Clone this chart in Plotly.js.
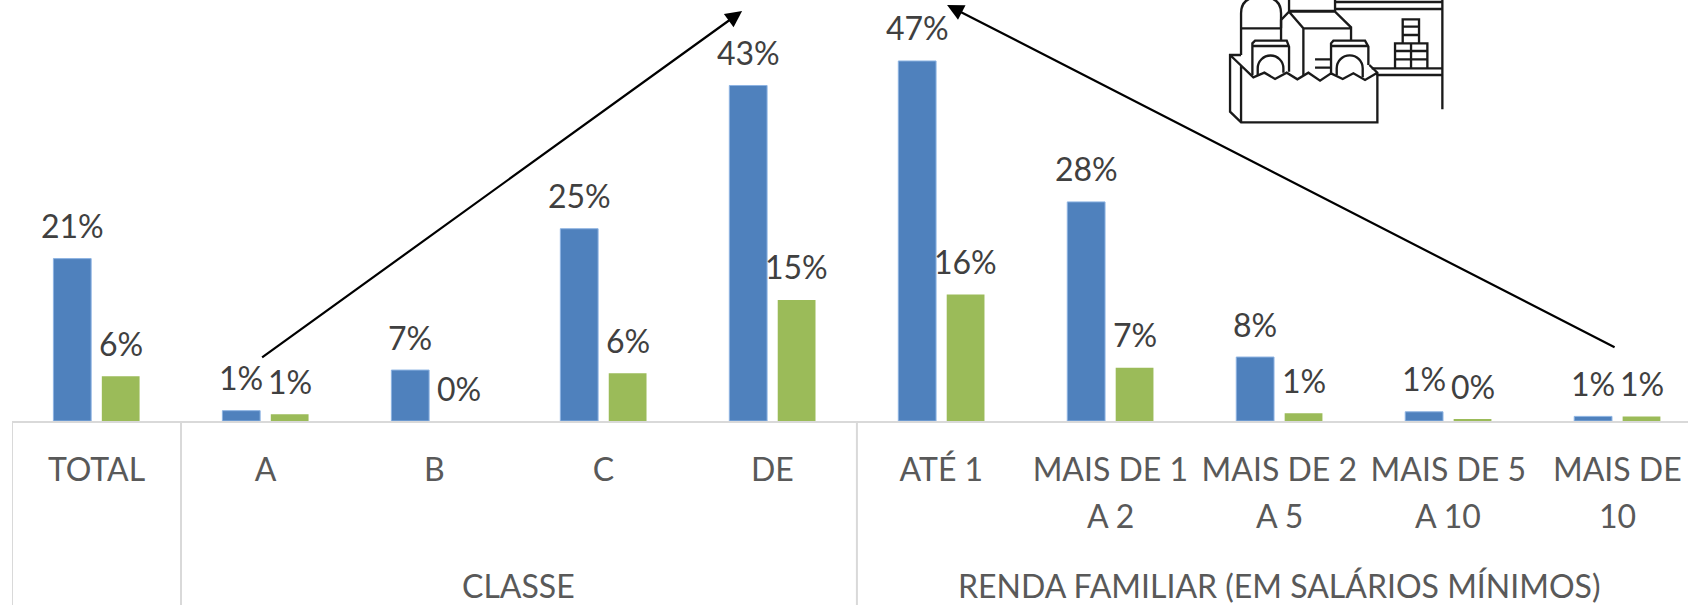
<!DOCTYPE html>
<html>
<head>
<meta charset="utf-8">
<script src="https://cdn.plot.ly/plotly-3.0.1.min.js"></script>
<style>html,body{margin:0;padding:0;background:#fff;overflow:hidden}</style>
</head>
<body>
<div id="chart" style="width:1688px;height:605px"></div>
<script>
var categories = ["TOTAL","A","B","C","DE","ATÉ 1","MAIS DE 1","MAIS DE 2","MAIS DE 5","MAIS DE"];
var categoriesSecondLine = ["","","","","","","A 2","A 5","A 10","10"];
var blueValues = [21.2,1.35,6.65,25.1,43.8,47.0,28.6,8.35,1.2,0.6];
var greenValues = [5.85,0.87,0,6.25,15.8,16.5,6.95,1.0,0.25,0.6];
var blueLabels = ["21%","1%","7%","25%","43%","47%","28%","8%","1%","1%"];
var greenLabels = ["6%","1%","0%","6%","15%","16%","7%","1%","0%","1%"];
var groupLabels = [{text:"CLASSE",at:2.5},{text:"RENDA FAMILIAR (EM SALÁRIOS MÍNIMOS)",at:7}];
var groupDividers = [-0.5,0.5,4.5];

var FONT = "Lato, 'Open Sans', sans-serif";
var W = 1688, H = 605, LEFT = 11.8, BASE = 421, CATW = 169, UNIT = 7.66;
var px = function(x){return (x-LEFT)/(W-LEFT);};
var py = function(y){return 1-y/BASE;};

var icon = "<svg xmlns='http://www.w3.org/2000/svg' viewBox='0 0 900 420' width='900' height='420'>" +
"<g fill='none' stroke='#1a1a1a' stroke-width='7'>" +
"<path d='M183 165V40Q183 -10 243 -10Q303 -10 303 40V85M183 85H303'/>" +
"<path d='M327 0V33H465V0M303 122V60L327 35H465L513 82V122M327 35L370 85H513M370 85V225'/>" +
"<path d='M465 6H787M465 27H787M787 0V328M575 205H787M590 225H787'/>" +
"<path d='M668 130V58H717V130M668 80H717M668 105H717M645 205V130H742V205M693 130V205M645 153H742M645 178H742'/>" +
"<path d='M217 225V130L225 122H320L327 140V215M217 138H327M233 225V205A38 38 0 0 1 310 205V218'/>" +
"<path d='M453 225V130L460 122H555L565 140V195M453 138H565M470 225V205A38 38 0 0 1 548 205V232M405 178H453M405 203H453'/>" +
"<path d='M183 165H150V335L183 367H592V218L568 195M150 165L220 232L253 218L285 237L320 218L352 238L385 218L420 242L453 220L488 237L520 220L555 240L592 218M183 195V367'/>" +
"</g></svg>";

var SLOT = 48.4/CATW;
var annotations = [];
function addLabels(labels, values, side){
  labels.forEach(function(t,i){
    annotations.push({x:i+side*SLOT/2,y:values[i],xref:'x',yref:'y',text:t,showarrow:false,
      yanchor:'middle',xanchor:'center',yshift:33,font:{family:FONT,size:32,color:'#404040'}});
  });
}
addLabels(blueLabels,blueValues,-1);
addLabels(greenLabels,greenValues,1);
categoriesSecondLine.forEach(function(t,i){
  if(!t) return;
  annotations.push({x:i,y:0,xref:'x',yref:'paper',text:t,showarrow:false,yanchor:'middle',xanchor:'center',
    yshift:-(515-BASE),font:{family:FONT,size:32,color:'#595959'}});
});
groupLabels.forEach(function(g){
  annotations.push({x:g.at,y:0,xref:'x',yref:'paper',text:g.text,showarrow:false,yanchor:'middle',xanchor:'center',
    yshift:-(585-BASE),font:{family:FONT,size:32,color:'#595959'}});
});
function arrow(x0,y0,x1,y1){
  annotations.push({x:px(x1),y:py(y1),xref:'paper',yref:'paper',axref:'pixel',ayref:'pixel',ax:x0-x1,ay:y0-y1,text:'',
    showarrow:true,arrowhead:2,arrowsize:1.5,arrowwidth:2.2,arrowcolor:'#000',standoff:0});
}
arrow(260.5,358.5,742,11);
arrow(1616,348,947,5);

var shapes = groupDividers.map(function(d){
  return {type:'line',xref:'x',yref:'paper',x0:d,x1:d,y0:0,y1:-(H-BASE)/BASE,line:{color:'#D9D9D9',width:2}};
});

var traces = [
  {type:'bar',x:categories,y:blueValues,marker:{color:'#4F81BD',line:{color:'#8DB3E2',width:1}},hoverinfo:'skip'},
  {type:'bar',x:categories,y:greenValues,marker:{color:'#9BBB59',line:{width:0}},hoverinfo:'skip'}
];
var layout = {
  width:W,height:H,autosize:false,
  margin:{l:LEFT,r:0,t:0,b:H-BASE,pad:0},
  paper_bgcolor:'#fff',plot_bgcolor:'#fff',showlegend:false,
  barmode:'group',bargap:0.427,bargroupgap:0.22,
  xaxis:{type:'category',categoryorder:'array',categoryarray:categories,range:[-0.5,(W-LEFT)/CATW-0.5],
    showline:true,linecolor:'#D9D9D9',linewidth:2,showgrid:false,zeroline:false,
    ticks:'outside',ticklen:20,tickcolor:'rgba(0,0,0,0)',tickangle:0,automargin:false,
    tickfont:{family:FONT,size:32,color:'#595959'}},
  yaxis:{range:[0,BASE/UNIT],visible:false,showgrid:false,zeroline:false},
  annotations:annotations,shapes:shapes,
  images:[{source:"data:image/svg+xml;utf8,"+encodeURIComponent(icon),xref:'paper',yref:'paper',
    x:px(1180),y:1,sizex:300/(W-LEFT),sizey:140/BASE,xanchor:'left',yanchor:'top',sizing:'stretch',layer:'above'}]
};
Plotly.newPlot('chart',traces,layout,{staticPlot:true,displayModeBar:false});
</script>
</body>
</html>
